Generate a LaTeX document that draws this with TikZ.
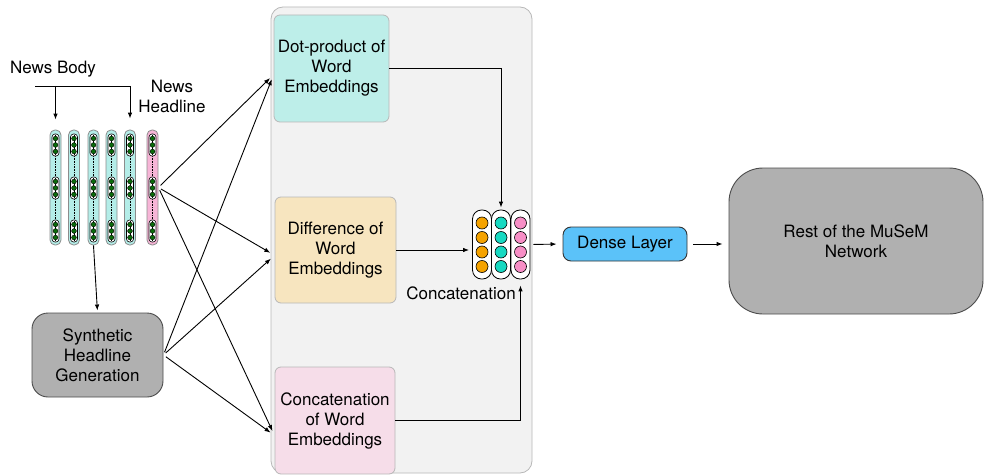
\documentclass[tikz,border=0pt]{standalone}
\usepackage{fontspec}
\setmainfont{TeX Gyre Heros}
\usepackage{tikz}
\usetikzlibrary{arrows.meta, positioning, calc}
\definecolor{PanelFill}{HTML}{F2F2F2}
\definecolor{PanelLine}{HTML}{B8B8B8}
\definecolor{DotFill}{HTML}{BDEEE9}
\definecolor{DiffFill}{HTML}{F7E5BF}
\definecolor{CatFill}{HTML}{F6DDE9}
\definecolor{GreyFill}{HTML}{B0B0B0}
\definecolor{DenseFill}{HTML}{5BC2F9}
\definecolor{VecCyan}{HTML}{B4EDE8}
\definecolor{VecPink}{HTML}{F7B5D7}
\definecolor{DotGreen}{HTML}{0B6B0B}
\definecolor{CcOrange}{HTML}{F5A300}
\definecolor{CcTeal}{HTML}{17D9C2}
\definecolor{CcPink}{HTML}{F78EC6}

\begin{document}
\begin{tikzpicture}[
  x=1pt, y=-1pt,
  font=\fontsize{17}{20}\selectfont,
  panel/.style={rectangle, draw=PanelLine, fill=PanelFill, rounded corners=12pt, line width=0.8pt},
  embbox/.style={rectangle, draw=PanelLine, rounded corners=6pt, align=center, inner sep=1pt, line width=0.8pt},
  greybox/.style={rectangle, draw=black!70, fill=GreyFill, align=center, line width=0.9pt},
  vector/.style={rectangle, draw=black!45, rounded corners=5pt, minimum width=11pt, minimum height=115pt, inner sep=0pt, line width=0.8pt},
  ccap/.style={rectangle, draw=black, fill=white, rounded corners=9pt, minimum width=19pt, minimum height=69pt, inner sep=0pt, line width=0.8pt},
  arrow/.style={-{Latex[length=6pt,width=4.5pt]}, line width=0.9pt}
]
\useasboundingbox (0,0) rectangle (985,476);

% grey panel behind the three embedding boxes
\node[panel, minimum width=261pt, minimum height=466pt] (panel) at (401.5,240) {};

\node[embbox, fill=DotFill, minimum width=115pt, minimum height=107pt] (dot) at (331.5,68.5) {Dot-product of\\Word\\Embeddings};
\node[embbox, fill=DiffFill, minimum width=121pt, minimum height=106pt] (diff) at (335.5,250) {Difference of\\Word\\Embeddings};
\node[embbox, fill=CatFill, minimum width=120pt, minimum height=107pt] (cat) at (335,420.5) {Concatenation\\of Word\\Embeddings};

% input word vectors
\foreach \i/\x/\c in {1/55.5/VecCyan, 2/74/VecCyan, 3/93.5/VecCyan, 4/111.5/VecCyan, 5/130/VecCyan, 6/152.5/VecPink} {
  \node[vector, fill=\c] (vec\i) at (\x,187.5) {};
  \draw[densely dotted, line width=0.6pt] (\x,156) -- (\x,177) (\x,199) -- (\x,220);
  \foreach \yc in {145,188,231} {
    \draw[fill=white, line width=0.6pt, rounded corners=3pt] (\x-3.5,\yc-11) rectangle (\x+3.5,\yc+11);
    \draw[line width=0.5pt] (\x,\yc-10) -- (\x,\yc+10);
    \foreach \d in {-6.5,0,6.5}
      \draw[fill=DotGreen, line width=0.4pt] (\x,\yc+\d) circle (2.4);
  }
}

\node (body) at (53,69) {News Body};
\node[align=center] (head) at (172,96) {News\\Headline};
\coordinate (bodyL) at (35,86);
\coordinate (bodyR) at (130,86);
\draw[line width=0.9pt] (bodyL) -- (bodyR);
\draw[arrow, shorten >=10pt] (bodyL -| vec1) -- (vec1.north);
\draw[arrow, shorten >=11pt] (bodyR) -- (vec5.north);

\node[greybox, rounded corners=16pt, minimum width=131pt, minimum height=84pt] (syn) at (97.5,355) {Synthetic\\Headline\\Generation};
\draw[arrow, shorten >=2pt] (vec3.south) -- (syn.north);

% every input feeds every embedding box
\foreach \src in {vec6, syn}
  \foreach \dst/\ang in {dot/186, diff/185, cat/194}
    \draw[arrow, shorten <=3pt, shorten >=5pt] (\src.east) -- (\dst.\ang);

% concatenated vector
\node[ccap] (cc1) at (482,244.5) {};
\node[ccap] (cc2) at (501,244.5) {};
\node[ccap] (cc3) at (520.5,244.5) {};
\foreach \n/\c in {cc1/CcOrange, cc2/CcTeal, cc3/CcPink}
  \foreach \yc in {223,237.5,252,266.5}
    \draw[fill=\c, line width=0.6pt] (\n |- 0,\yc) circle (6);
\node (cclabel) at (461,293) {Concatenation};

\draw[arrow, shorten >=2pt] (dot.east) -| (cc2.north);
\draw[arrow, shorten >=3pt] (diff.east) -- (diff.east -| cc1.west);
\draw[arrow, shorten >=6pt] (cat.east) -| (cc3.south);

\node[greybox, fill=DenseFill, draw=black!80, rounded corners=8pt, minimum width=124pt, minimum height=34pt] (dense) at (625,244) {Dense Layer};
\node[greybox, rounded corners=34pt, minimum width=254pt, minimum height=146pt] (rest) at (856,241) {Rest of the MuSeM\\Network};

\draw[arrow, shorten <=3pt, shorten >=6pt] (cc3.east) -- (dense.west);
\draw[arrow, shorten <=6pt, shorten >=6pt] (dense.east) -- (dense.east -| rest.west);
\end{tikzpicture}
\end{document}
